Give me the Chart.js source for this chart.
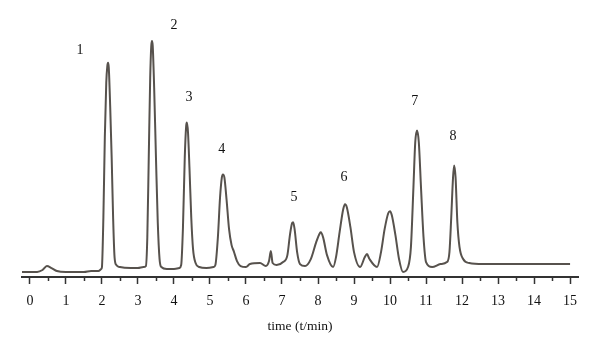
<!DOCTYPE html>
<html>
<head>
<meta charset="utf-8">
<script src="https://cdn.jsdelivr.net/npm/chart.js@4/dist/chart.umd.min.js"></script>
<style>
  html, body { margin: 0; padding: 0; background: #fff; }
  #wrap { width: 600px; height: 352px; }
</style>
</head>
<body>
<div id="wrap"><canvas id="chromChart"></canvas></div>
<script>
// Retention time (min) and detector signal
const TIMES = [
  -0.22, 0.2, 0.35, 0.47, 0.6, 0.75, 1.0, 1.5, 1.7, 1.9, 1.98,
  2.0, 2.04, 2.08, 2.12, 2.15, 2.17, 2.19, 2.23, 2.27, 2.31, 2.35, 2.4, 2.5, 2.8, 3.0, 3.15,
  3.22, 3.26, 3.3, 3.34, 3.37, 3.39, 3.41, 3.45, 3.5, 3.55, 3.6, 3.65, 3.8, 4.0, 4.15,
  4.2, 4.25, 4.3, 4.34, 4.36, 4.39, 4.43, 4.48, 4.53, 4.6, 4.7, 4.9, 5.1,
  5.15, 5.22, 5.28, 5.33, 5.36, 5.4, 5.46, 5.53, 5.6, 5.66, 5.75, 5.85, 6.0,
  6.11, 6.39, 6.55, 6.64, 6.69, 6.74, 6.85, 7.03, 7.15, 7.22, 7.28, 7.31, 7.35, 7.42, 7.5, 7.64,
  7.8, 7.95, 8.05, 8.08, 8.14, 8.25, 8.42,
  8.5, 8.6, 8.7, 8.75, 8.8, 8.9, 9.0, 9.17, 9.3, 9.36, 9.43, 9.64,
  9.75, 9.85, 9.95, 10.0, 10.05, 10.15, 10.25, 10.36,
  10.5, 10.58, 10.65, 10.7, 10.75, 10.8, 10.86, 10.93, 11.0, 11.17, 11.4, 11.58,
  11.65, 11.7, 11.75, 11.78, 11.82, 11.87, 11.93, 12.03, 12.2, 12.58, 12.6, 15.0
];
const SIGNAL = [
  5, 5, 7, 11, 9, 6, 5, 5, 6, 6, 8,
  10, 60, 140, 195, 212, 215, 210, 170, 120, 60, 20, 12, 10, 9, 9, 10,
  11, 40, 120, 200, 232, 237, 232, 190, 120, 55, 18, 10, 8, 8, 9,
  12, 50, 120, 152, 155, 145, 110, 60, 28, 14, 10, 9, 10,
  12, 40, 80, 100, 103, 100, 78, 48, 32, 26, 16, 11, 10,
  13, 14, 11, 16, 26, 14, 12, 15, 22, 42, 54, 55, 48, 25, 13, 11,
  18, 35, 44, 45, 40, 22, 10,
  20, 45, 68, 73, 70, 50, 25, 10, 20, 23, 18, 10,
  25, 48, 64, 66, 62, 42, 18, 5,
  10, 30, 90, 135, 147, 135, 90, 40, 15, 10, 13, 15,
  25, 60, 100, 112, 100, 55, 30, 18, 14, 13, 13, 13
];

const MAJOR_TICKS = [0, 1, 2, 3, 4, 5, 6, 7, 8, 9, 10, 11, 12, 13, 14, 15];
const MINOR_TICKS = [0.5, 1.5, 2.5, 3.5, 4.5, 5.5, 6.5, 7.5, 8.5, 9.5, 10.5, 11.5, 12.5, 13.5, 14.5];

// Peak numbers and where they sit (time, signal)
const PEAK_LABELS = ['1', '2', '3', '4', '5', '6', '7', '8'];
const PEAK_LABEL_T = [1.39, 4.0, 4.42, 5.33, 7.33, 8.72, 10.69, 11.75];
const PEAK_LABEL_V = [228, 253, 180, 128, 80, 100, 176, 141];

const SERIF = '"Liberation Serif", "DejaVu Serif", serif';
const INK = '#333';

const points = TIMES.map((t, i) => ({ x: t, y: SIGNAL[i] }));

// half-minute ticks and the peak numbers
const extrasPlugin = {
  id: 'extras',
  afterDraw(chart) {
    const { ctx, scales: { x, y }, chartArea } = chart;
    ctx.save();
    ctx.strokeStyle = INK;
    ctx.lineWidth = 1.5;
    MINOR_TICKS.forEach(t => {
      const px = Math.round(x.getPixelForValue(t)) + 0.5;
      ctx.beginPath();
      ctx.moveTo(px, chartArea.bottom);
      ctx.lineTo(px, chartArea.bottom + 4);
      ctx.stroke();
    });
    ctx.fillStyle = '#111';
    ctx.font = '14px ' + SERIF;
    ctx.textAlign = 'center';
    ctx.textBaseline = 'middle';
    PEAK_LABELS.forEach((lbl, i) => {
      ctx.fillText(lbl, x.getPixelForValue(PEAK_LABEL_T[i]), y.getPixelForValue(PEAK_LABEL_V[i]));
    });
    ctx.restore();
  }
};

new Chart(document.getElementById('chromChart'), {
  type: 'line',
  data: {
    datasets: [{
      data: points,
      borderColor: '#57524d',
      borderWidth: 2,
      pointRadius: 0,
      fill: false,
      cubicInterpolationMode: 'monotone'
    }]
  },
  options: {
    responsive: true,
    maintainAspectRatio: false,
    animation: false,
    layout: { padding: { left: 22, right: 22, top: 10, bottom: 17 } },
    plugins: { legend: { display: false }, tooltip: { enabled: false } },
    scales: {
      x: {
        type: 'linear',
        min: -0.22,
        max: 15.22,
        afterBuildTicks: axis => { axis.ticks = MAJOR_TICKS.map(v => ({ value: v })); },
        grid: { drawOnChartArea: false, drawTicks: true, tickLength: 7, tickWidth: 1.5, tickColor: INK },
        border: { display: true, color: INK, width: 2 },
        ticks: { color: '#111', font: { family: SERIF, size: 14 }, padding: 9, maxRotation: 0, autoSkip: false },
        title: { display: true, text: 'time (t/min)', color: '#111', font: { family: SERIF, size: 13.5 }, padding: { top: 0, bottom: 0 } }
      },
      y: {
        display: false,
        min: 0,
        max: 268
      }
    }
  },
  plugins: [extrasPlugin]
});
</script>
</body>
</html>
